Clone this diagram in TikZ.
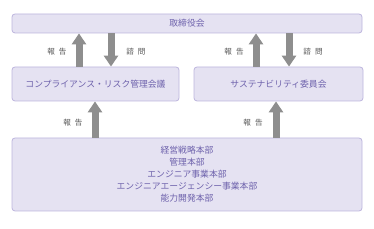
\documentclass[tikz,border=0pt]{standalone}
\usepackage{fontspec}
\newfontfamily\jp{Noto Sans CJK JP}
\usetikzlibrary{arrows.meta}
\definecolor{boxfill}{HTML}{E5E2F2}
\definecolor{boxline}{HTML}{BDB5DD}
\definecolor{boxtext}{HTML}{6E62AC}
\definecolor{arrowgray}{HTML}{8E8E8E}
\definecolor{labelgray}{HTML}{555555}
\begin{document}
\begin{tikzpicture}[x=1pt,y=1pt,
  box/.style={draw=boxline,line width=0.8pt,fill=boxfill,rounded corners=3pt,inner sep=0pt,
    font=\jp\fontsize{8.8}{12}\selectfont,text=boxtext,align=center},
  bigarrow/.style={draw=arrowgray,line width=7pt,-{Triangle[width=14pt,length=11pt]}},
  lbl/.style={font=\jp\fontsize{7.6}{8}\selectfont,text=labelgray}]
\useasboundingbox (0,0) rectangle (374,229);
\node[box,minimum width=350,minimum height=19] (board) at (187,{229-23.5}) {取締役会};
\node[box,minimum width=167,minimum height=34] (comp) at (95.5,{229-84}) {コンプライアンス・リスク管理会議};
\node[box,minimum width=169,minimum height=34] (sust) at (278.5,{229-84}) {サステナビリティ委員会};
\node[box,minimum width=350,minimum height=73] (depts) at (187,{229-174.5}) {経営戦略本部\\管理本部\\エンジニア事業本部\\エンジニアエージェンシー事業本部\\能力開発本部};
% arrows
\draw[bigarrow] (comp.north -| 79,0) -- (board.south -| 79,0);
\draw[bigarrow] (board.south -| 111,0) -- (comp.north -| 111,0);
\draw[bigarrow] (sust.north -| 256,0) -- (board.south -| 256,0);
\draw[bigarrow] (board.south -| 289,0) -- (sust.north -| 289,0);
\draw[bigarrow] (depts.north -| 95,0) -- (comp.south -| 95,0);
\draw[bigarrow] (depts.north -| 276,0) -- (sust.south -| 276,0);
% labels
\node[lbl] (l1) at (57,{229-52}) {報\hspace{4pt}告};
\node[lbl] (l2) at (136,{229-52}) {諮\hspace{4pt}問};
\node[lbl] (l3) at (234,{229-52}) {報\hspace{4pt}告};
\node[lbl] (l4) at (313,{229-52}) {諮\hspace{4pt}問};
\node[lbl] (l5) at (73,{229-123}) {報\hspace{4pt}告};
\node[lbl] (l6) at (253,{229-123}) {報\hspace{4pt}告};
\end{tikzpicture}
\end{document}
